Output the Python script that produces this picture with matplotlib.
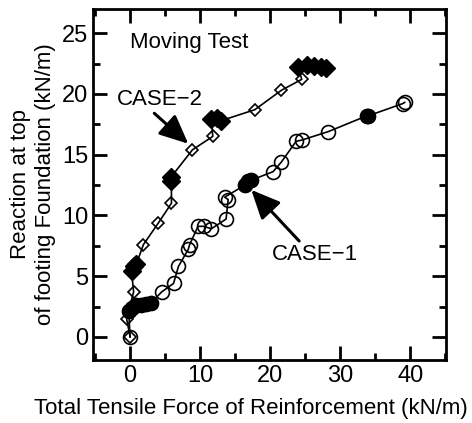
import matplotlib.pyplot as plt
from matplotlib.ticker import MultipleLocator

plt.rcParams['font.family'] = ['Liberation Sans', 'DejaVu Sans']

# CASE-1 (circles): tensile force (kN/m), reaction (kN/m)
case1_x = [0, -0.2, 0.3, 0.8, 1.5, 2.2, 3.0, 4.5, 6.2, 6.9, 8.3, 8.5, 9.7,
           10.5, 11.6, 13.7, 14.0, 13.5, 16.4, 16.9, 17.3, 20.4, 21.6, 23.7,
           24.5, 28.3, 33.8, 34.0, 38.9, 39.2]
case1_y = [0, 2.1, 2.4, 2.6, 2.6, 2.7, 2.8, 3.7, 4.4, 5.8, 7.2, 7.6, 9.1,
           9.1, 8.9, 9.7, 11.3, 11.5, 12.5, 12.8, 12.9, 13.6, 14.4, 16.1,
           16.2, 16.9, 18.2, 18.2, 19.2, 19.3]
# dense (filled-looking) clusters on CASE-1
case1_fx = [-0.2, 0.3, 0.8, 1.5, 2.2, 3.0, 16.4, 16.9, 17.3, 33.8, 34.0]
case1_fy = [2.1, 2.4, 2.6, 2.6, 2.7, 2.8, 12.5, 12.8, 12.9, 18.2, 18.2]

# CASE-2 (diamonds)
case2_x = [0, -0.5, 0.5, 0.2, 0.6, 0.9, 1.9, 4.0, 5.9, 5.9, 5.9, 8.9, 11.8,
           11.6, 12.4, 13.0, 17.8, 21.6, 24.5, 24.0, 25.2, 26.3, 27.3, 28.0]
case2_y = [0, 1.5, 3.7, 5.4, 5.8, 6.0, 7.6, 9.35, 11.0, 12.8, 13.2, 15.4, 16.5,
           17.9, 18.0, 17.8, 18.7, 20.3, 21.2, 22.2, 22.4, 22.3, 22.2, 22.1]
case2_fx = [0.2, 0.6, 0.9, 5.9, 5.9, 11.6, 12.4, 13.0, 24.0, 25.2, 26.3, 27.3, 28.0]
case2_fy = [5.4, 5.8, 6.0, 12.8, 13.2, 17.9, 18.0, 17.8, 22.2, 22.4, 22.3, 22.2, 22.1]

fig = plt.figure(figsize=(4.72, 4.23), dpi=100)
ax = fig.add_axes([0.197, 0.149, 0.748, 0.830])

ax.plot(case1_x, case1_y, '-', color='black', lw=1.2, marker='o', ms=10,
        mfc='none', mec='black', mew=1.2)
ax.plot(case1_fx, case1_fy, 'o', ms=10, color='black')
ax.plot(case2_x, case2_y, '-', color='black', lw=1.2, marker='D', ms=6.5,
        mfc='none', mec='black', mew=1.2)
ax.plot(case2_fx, case2_fy, 'D', ms=9, color='black')

ax.text(0, 24.2, 'Moving Test', fontsize=16, va='center', ha='left')
ax.annotate('CASE\u22122', xy=(8.3, 15.9), xytext=(-1.9, 19.5), fontsize=16,
            va='center', ha='left',
            arrowprops=dict(arrowstyle='-|>,head_length=1.1,head_width=0.5',
                            color='black', lw=2.2, shrinkA=0, shrinkB=0,
                            relpos=(0.4, 0.0)))
ax.annotate('CASE\u22121', xy=(17.3, 12.1), xytext=(20.2, 6.8), fontsize=16,
            va='center', ha='left',
            arrowprops=dict(arrowstyle='-|>,head_length=1.1,head_width=0.5',
                            color='black', lw=2.2, shrinkA=0, shrinkB=0,
                            relpos=(0.35, 1.0)))

ax.set_xlim(-5.3, 45.1)
ax.set_ylim(-1.9, 27.0)
ax.xaxis.set_major_locator(MultipleLocator(10))
ax.xaxis.set_minor_locator(MultipleLocator(5))
ax.yaxis.set_major_locator(MultipleLocator(5))
ax.yaxis.set_minor_locator(MultipleLocator(2.5))
ax.tick_params(which='both', direction='in', top=True, right=True,
               width=2, labelsize=17)
ax.tick_params(which='major', length=10)
ax.tick_params(which='minor', length=5)
for s in ax.spines.values():
    s.set_linewidth(2)

ax.set_xlabel('Total Tensile Force of Reinforcement (kN/m)', fontsize=16,
              va='center')
ax.xaxis.set_label_coords(0.448, -0.137)
ax.set_ylabel('Reaction at top\nof footing Foundation (kN/m)', fontsize=16,
              va='center')
ax.yaxis.set_label_coords(-0.170, 0.5)

fig.savefig('out.png', dpi=100)
